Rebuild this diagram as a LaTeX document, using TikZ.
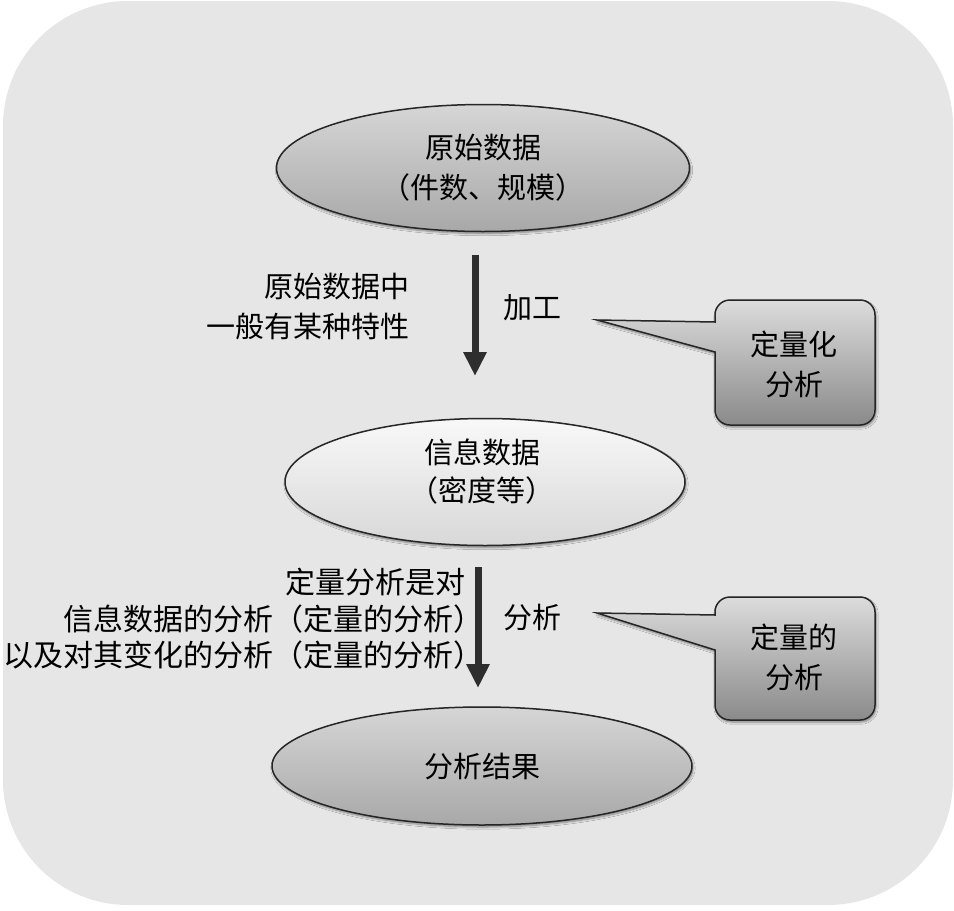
\documentclass[tikz,border=0pt]{standalone}
\usepackage{fontspec}
\setmainfont{Noto Sans CJK SC}
\usetikzlibrary{arrows.meta,shadows.blur,shapes.geometric}
\definecolor{bgc}{HTML}{E6E6E6}
\definecolor{ellA}{HTML}{D6D6D6}
\definecolor{ellB}{HTML}{A8A8A8}
\definecolor{ellC}{HTML}{F8F8F8}
\definecolor{ellD}{HTML}{D8D8D8}
\definecolor{boxA}{HTML}{DCDCDC}
\definecolor{boxB}{HTML}{8A8A8A}
\definecolor{arr}{HTML}{2E2E2E}
\begin{document}
\begin{tikzpicture}[x=1pt,y=-1pt,
  every node/.style={font=\fontsize{29}{40}\selectfont, inner sep=0pt, align=center},
  shd/.style={blur shadow={shadow blur steps=6, shadow xshift=1pt, shadow yshift=-2pt, shadow opacity=45}},
  darkell/.style={ellipse, draw=black!85, line width=1.5pt, top color=ellA, bottom color=ellB, shd},
  lightell/.style={ellipse, draw=black!85, line width=1.5pt, top color=ellC, bottom color=ellD, shd},
  callout/.style={draw=black!85, line width=1.5pt, top color=boxA, bottom color=boxB, shd},
  flow/.style={draw=arr, line width=7pt, -{Triangle[width=22pt,length=24pt]}}
]
\useasboundingbox (0,0) rectangle (954,911);
\fill[bgc, rounded corners=125pt] (3,1) rectangle (953,905);

% ellipses
\node[darkell, minimum width=413pt, minimum height=127pt] (raw) at (483,168) {原始数据\\（件数、规模）};
\node[lightell, minimum width=400pt, minimum height=127pt] (info) at (485,482) {};
\node[font=\fontsize{29}{38}\selectfont] (infotext) at (482,472) {信息数据\\（密度等）};
\node[darkell, minimum width=420pt, minimum height=118pt] (res) at (482,766) {分析结果};

% arrows
\coordinate (a1s) at (475,255);
\coordinate (a1e) at (475,376);
\coordinate (a2s) at (478,567);
\coordinate (a2e) at (478,688);
\draw[flow] (a1s) -- (a1e);
\draw[flow] (a2s) -- (a2e);

% labels
\node[anchor=east, align=right] (l1) at (410,307) {原始数据中\\一般有某种特性};
\node[anchor=west] (l2) at (503,308) {加工};
\node[anchor=east, align=right, font=\fontsize{30}{36.5}\selectfont] (l3) at (466,619) {定量分析是对\\信息数据的分析（定量的分析）\kern-17.5pt\\以及对其变化的分析（定量的分析）\kern-17.5pt};
\node[anchor=west] (l4) at (503,618) {分析};

% callouts
\draw[callout] (597,320) -- (715,322) [rounded corners=15pt] -- (715,300) -- (875,300) -- (875,425) -- (715,425) [sharp corners] -- (715,352) -- cycle;
\node (c1) at (794,364) {定量化\\分析};
\draw[callout] (597,613) -- (715,615) [rounded corners=15pt] -- (715,597) -- (875,597) -- (875,720) -- (715,720) [sharp corners] -- (715,650) -- cycle;
\node (c2) at (794,657) {定量的\\分析};
\end{tikzpicture}
\end{document}
